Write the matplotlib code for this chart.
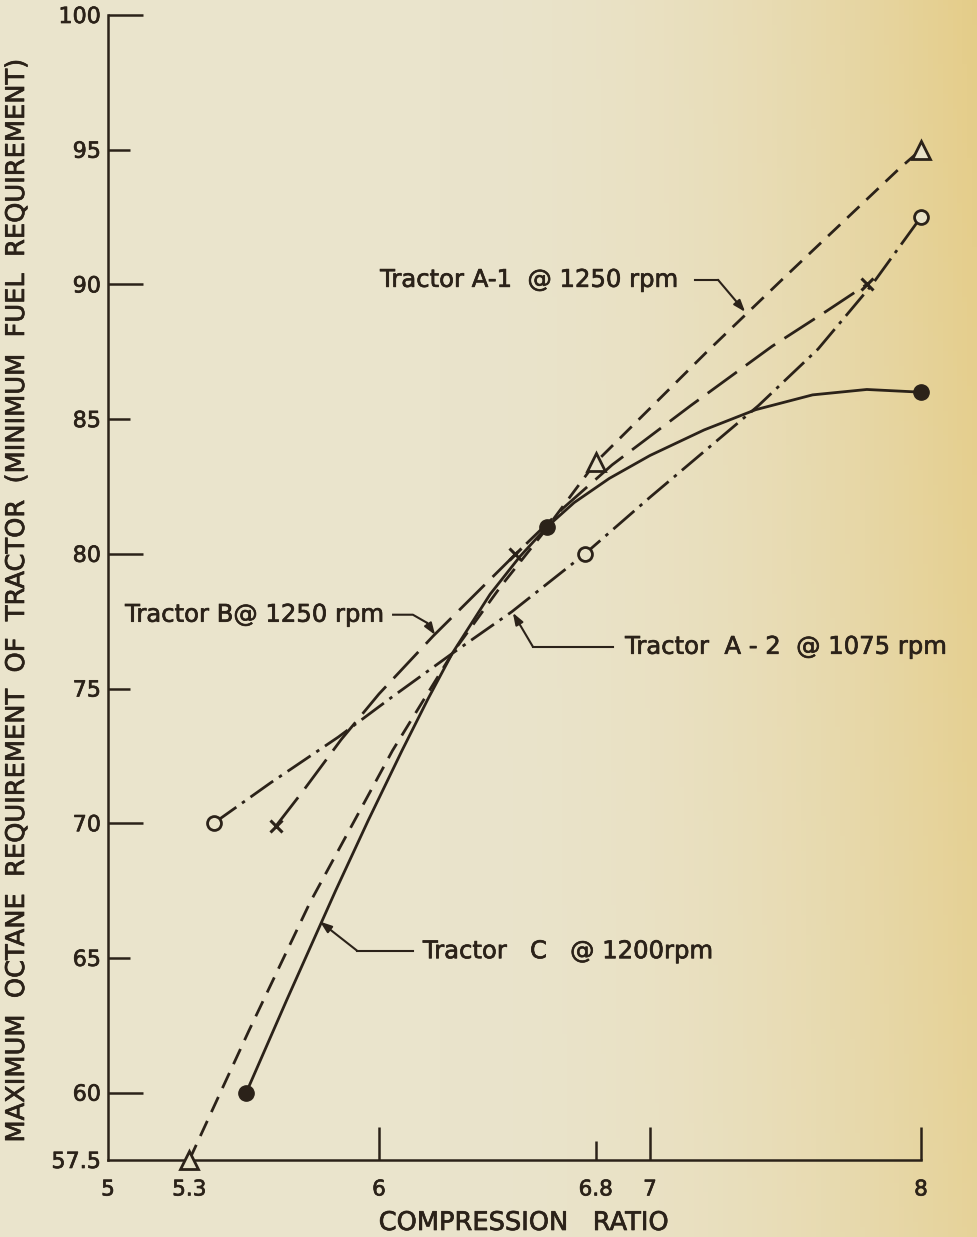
import numpy as np
import matplotlib
matplotlib.use('Agg')
import matplotlib.pyplot as plt
import matplotlib.patheffects as pe

plt.rcParams['font.family'] = ['DejaVu Sans']
plt.rcParams['lines.scale_dashes'] = False

INK = '#2b2219'
PAPER = '#e9e3c9'
BOLD = [pe.withStroke(linewidth=0.5, foreground=INK)]

# measured points (markers)
a1_x = [5.3, 6.8, 8.0]
a1_y = [57.5, 83.4, 95.0]
a2_x = [5.39, 6.76, 8.0]
a2_y = [70.0, 80.0, 92.5]
b_x = [5.62, 6.5, 7.8]
b_y = [69.9, 80.0, 90.0]
c_x = [5.51, 6.62, 8.0]
c_y = [60.0, 81.0, 86.0]

# faired curves
a1_cx = [5.30, 5.52, 5.745, 6.05, 6.27, 6.45, 6.60, 6.80, 7.21, 7.50, 7.92, 8.0]
a1_cy = [57.5, 62.3, 67.05, 72.7, 76.3, 78.8, 80.7, 83.4, 87.5, 90.3, 94.3, 95.0]
a2_cx = [5.39, 5.60, 5.85, 6.05, 6.27, 6.49, 6.76, 7.00, 7.20, 7.40, 7.62, 7.82, 8.0]
a2_cy = [70.0, 71.5, 73.2, 74.7, 76.3, 77.85, 80.0, 82.1, 83.8, 85.5, 87.6, 90.0, 92.5]
b_cx = [5.62, 5.72, 5.86, 6.00, 6.20, 6.40, 6.50, 6.68, 6.86, 7.15, 7.45, 7.65, 7.80]
b_cy = [69.9, 71.2, 73.1, 74.8, 76.95, 78.95, 79.95, 81.7, 83.3, 85.5, 87.7, 89.0, 90.0]
c_cx = [5.51, 5.66, 5.84, 5.96, 6.085, 6.18, 6.27, 6.41, 6.52, 6.62, 6.72, 6.85, 7.00, 7.20,
        7.39, 7.60, 7.80, 8.0]
c_cy = [60.0, 63.45, 67.5, 70.1, 72.7, 74.6, 76.3, 78.5, 79.9, 81.0, 81.9, 82.8, 83.65, 84.6,
        85.35, 85.9, 86.1, 86.0]

x_ticks = [5, 5.3, 6, 6.8, 7, 8]
x_labels = ['5', '5.3', '6', '6.8', '7', '8']
y_ticks = [57.5, 60, 65, 70, 75, 80, 85, 90, 95, 100]
y_labels = ['57.5', '60', '65', '70', '75', '80', '85', '90', '95', '100']

fig = plt.figure(figsize=(9.77, 12.37), dpi=100)

# aged paper background
bg = fig.add_axes([0, 0, 1, 1], zorder=-10)
xx = np.linspace(0, 1, 200)[None, :]
yy = np.linspace(0, 1, 250)[:, None]
t = np.clip((xx - 0.45) / 0.55, 0, 1) ** 2.0 * (0.8 + 0.25 * (1 - yy))
base = np.array([234, 228, 204]) / 255
yel = np.array([229, 206, 140]) / 255
img = base * (1 - t[..., None]) + yel * t[..., None]
bg.imshow(np.clip(img, 0, 1), aspect='auto', extent=[0, 1, 0, 1])
bg.axis('off')

ax = fig.add_axes([108 / 977, 77 / 1237, 813 / 977, 1145 / 1237])
ax.patch.set_alpha(0)
ax.set_xlim(5, 8)
ax.set_ylim(57.5, 100)
for s in ['top', 'right']:
    ax.spines[s].set_visible(False)
for s in ['left', 'bottom']:
    ax.spines[s].set_linewidth(1.8)
    ax.spines[s].set_color(INK)

ax.set_xticks(x_ticks, labels=x_labels)
ax.set_yticks(y_ticks, labels=y_labels)
ax.tick_params(axis='x', direction='in', width=1.8, pad=14, labelsize=15.5, colors=INK)
ax.tick_params(axis='y', direction='in', width=1.8, pad=5, labelsize=16, colors=INK)
for tk, L in zip(ax.xaxis.get_major_ticks(), [0, 0, 24, 14, 24, 24]):
    tk.tick1line.set_markersize(L)
for tk, v in zip(ax.yaxis.get_major_ticks(), y_ticks):
    tk.tick1line.set_markersize(0 if v == 57.5 else (25 if v % 10 == 0 else 16))
for lab in ax.get_xticklabels() + ax.get_yticklabels():
    lab.set_path_effects(BOLD)

lw = 2.0
ax.plot(a1_cx, a1_cy, color=INK, lw=lw, dashes=(12, 7))
ax.plot(b_cx, b_cy, color=INK, lw=lw, dashes=(26, 8))
ax.plot(a2_cx, a2_cy, color=INK, lw=lw, dashes=(20, 5, 2.5, 5))
ax.plot(c_cx, c_cy, color=INK, lw=lw, solid_capstyle='round', solid_joinstyle='round')

ax.plot(a1_x, a1_y, ls='none', marker='^', ms=13, mfc=PAPER, mec=INK, mew=2, clip_on=False, zorder=5)
ax.plot(a2_x, a2_y, ls='none', marker='o', ms=10, mfc=PAPER, mec=INK, mew=2, clip_on=False, zorder=5)
ax.plot(b_x, b_y, ls='none', marker='x', ms=9, mec=INK, mew=2.2, clip_on=False, zorder=5)
ax.plot(c_x, c_y, ls='none', marker='o', ms=11, mfc=INK, mec=INK, clip_on=False, zorder=5)


def leader(xs, ys):
    ax.plot(xs[:-1], ys[:-1], color=INK, lw=1.5)
    ax.annotate('', xy=(xs[-1], ys[-1]), xytext=(xs[-2], ys[-2]),
                arrowprops=dict(arrowstyle='-|>,head_length=0.7,head_width=0.25',
                                color=INK, lw=1.5, shrinkA=0, shrinkB=0))


fs = 17.5
ax.text(6.004, 90.17, 'Tractor A-1  @ 1250 rpm', fontsize=fs, color=INK, ha='left', va='center',
        path_effects=BOLD)
leader([7.166, 7.251, 7.351], [90.17, 90.17, 88.98])

ax.text(5.063, 77.74, 'Tractor B@ 1250 rpm', fontsize=fs, color=INK, ha='left', va='center',
        path_effects=BOLD)
leader([6.052, 6.125, 6.177, 6.207], [77.74, 77.74, 77.44, 76.99])

ax.text(6.908, 76.55, 'Tractor  A - 2  @ 1075 rpm', fontsize=fs, color=INK, ha='left', va='center',
        path_effects=BOLD)
leader([6.863, 6.568, 6.494], [76.55, 76.55, 77.81])

ax.text(6.162, 65.25, 'Tractor   C   @ 1200rpm', fontsize=fs, color=INK, ha='left', va='center',
        path_effects=BOLD)
leader([6.125, 5.919, 5.782], [65.27, 65.27, 66.35])

fig.text(524 / 977, 14 / 1237, 'COMPRESSION   RATIO', fontsize=18.5, color=INK,
         ha='center', va='center', path_effects=BOLD)
fig.text(17 / 977, 637 / 1237,
         'MAXIMUM  OCTANE  REQUIREMENT  OF  TRACTOR  (MINIMUM  FUEL  REQUIREMENT)',
         fontsize=18.5, color=INK, rotation=90, ha='center', va='center', path_effects=BOLD)

fig.savefig('out.png', dpi=100)
